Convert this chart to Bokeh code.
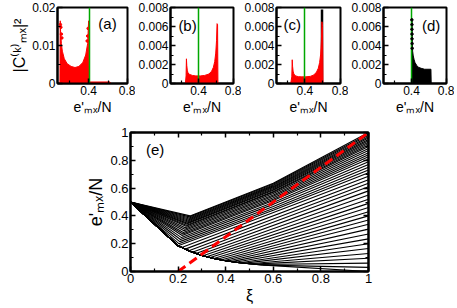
from bokeh.plotting import figure
from bokeh.layouts import column, row
from bokeh.models import Range1d, LinearAxis, Label, FixedTicker, CustomJSTickFormatter
from bokeh.embed import file_html
from bokeh.resources import INLINE

# ---------------- data ----------------
# top panels: e'_mx/N on x, |C|^2 on y
top_xlim = (0.08, 0.8)

# (a) red distribution (upper boundary of the dense red scatter)
a_x = [0.105, 0.108, 0.112, 0.12, 0.13, 0.15, 0.18, 0.22, 0.26, 0.30, 0.34, 0.37, 0.39, 0.40, 0.405, 0.41, 0.62, 0.625]
a_y = [0.0, 0.0165, 0.0135, 0.0105, 0.0085, 0.0065, 0.0052, 0.0045, 0.0042, 0.0045, 0.0055, 0.0075, 0.0105, 0.0165, 0.0005, 0.0004, 0.0004, 0.0]
a_dot_x = [0.11, 0.115, 0.12, 0.125, 0.385, 0.39, 0.395]
a_dot_y = [0.0155, 0.0148, 0.013, 0.012, 0.0112, 0.0125, 0.0145]
green_a = 0.412

# (b)
b_x = [0.25, 0.258, 0.262, 0.266, 0.272, 0.28, 0.30, 0.33, 0.37, 0.42, 0.47, 0.52, 0.55, 0.57, 0.585, 0.597, 0.606, 0.612, 0.618, 0.622]
b_y = [0.0, 0.0008, 0.0026, 0.0019, 0.0014, 0.0011, 0.00095, 0.00085, 0.0008, 0.0008, 0.00085, 0.001, 0.0013, 0.0017, 0.0023, 0.0032, 0.0045, 0.0063, 0.0062, 0.0]
green_b = 0.40

# (c)
c_x = [0.24, 0.252, 0.257, 0.261, 0.267, 0.275, 0.295, 0.325, 0.365, 0.41, 0.46, 0.50, 0.53, 0.55, 0.565, 0.577, 0.585, 0.591, 0.598, 0.603]
c_y = [0.0, 0.0007, 0.0025, 0.0018, 0.0013, 0.001, 0.0008, 0.00072, 0.0007, 0.0007, 0.00075, 0.0009, 0.0012, 0.0016, 0.0022, 0.0031, 0.0045, 0.0065, 0.006, 0.0]
c_black_x = [0.592]
c_black_top = [0.0078]
green_c = 0.393

# (d)
d_x = [0.402, 0.405, 0.409, 0.413, 0.42, 0.43, 0.44, 0.46, 0.48, 0.51, 0.55, 0.60, 0.622, 0.625]
d_y = [0.0, 0.0066, 0.0042, 0.0034, 0.0029, 0.0025, 0.0022, 0.0019, 0.0017, 0.0016, 0.0015, 0.0015, 0.0015, 0.0]
d_dot_x = [0.404, 0.405, 0.405, 0.406, 0.406, 0.407, 0.408]
d_dot_y = [0.0067, 0.0062, 0.0057, 0.0052, 0.0047, 0.0042, 0.0037]
green_d = 0.405

# (e) fan of levels e'_mx/N versus xi; all levels start at (0, 0.5)
fan_start_xi = 0.0
fan_start_e = 0.5
fan_end_xi = 1.0
fan_mid_xi = 0.6

# upper levels: straight descent to a turning point, bent rise through xi = 0.6
upper_end = [1.00, 0.99, 0.98, 0.97, 0.96, 0.95, 0.94, 0.93, 0.92, 0.91, 0.90, 0.885, 0.87, 0.855, 0.84,
             0.825, 0.81, 0.79, 0.77, 0.75, 0.73, 0.71]
upper_turn_xi = [0.250, 0.248, 0.247, 0.245, 0.243, 0.241, 0.240, 0.238, 0.236, 0.235, 0.233, 0.230, 0.228,
                 0.225, 0.222, 0.220, 0.217, 0.214, 0.210, 0.207, 0.203, 0.200]
upper_turn_e = [0.400, 0.393, 0.385, 0.378, 0.370, 0.363, 0.356, 0.348, 0.341, 0.333, 0.326, 0.315, 0.304,
                0.293, 0.281, 0.270, 0.259, 0.244, 0.230, 0.215, 0.200, 0.185]
upper_mid_e = [0.635, 0.629, 0.622, 0.616, 0.609, 0.604, 0.597, 0.590, 0.584, 0.576, 0.571, 0.561, 0.551,
               0.541, 0.531, 0.520, 0.510, 0.496, 0.483, 0.468, 0.454, 0.440]

# lower levels: follow the lower edge of the fan, then rise straight to their end value
lower_end = [0.685, 0.66, 0.635, 0.61, 0.58, 0.55, 0.52, 0.49, 0.46, 0.43, 0.40, 0.37, 0.34, 0.305, 0.27,
             0.235, 0.20, 0.165, 0.13, 0.095, 0.06, 0.03, 0.0]
lower_turn_xi = [0.215, 0.230, 0.245, 0.260, 0.275, 0.290, 0.305, 0.320, 0.335, 0.350, 0.365, 0.380, 0.395,
                 0.410, 0.425, 0.440, 0.460, 0.480, 0.500, 0.520, 0.540, 0.560, 0.580]
lower_turn_e = [0.173, 0.161, 0.149, 0.139, 0.130, 0.121, 0.113, 0.106, 0.100, 0.093, 0.088, 0.083, 0.079,
                0.075, 0.071, 0.067, 0.063, 0.060, 0.056, 0.053, 0.050, 0.046, 0.044]
lower_edge_xi = [0.20, 0.25, 0.30, 0.35, 0.40, 0.45, 0.50, 0.55]
lower_edge_e = [0.185, 0.145, 0.115, 0.093, 0.077, 0.065, 0.056, 0.048]

red_xi = [0.2, 1.0]
red_e = [0.0, 1.0]

# ticks
top_x_major = [0.4, 0.8]
top_x_minor = [0.2, 0.6]
a_y_major = [0, 0.01, 0.02]
a_y_minor = [0.005, 0.015]
bcd_y_major = [0, 0.002, 0.004, 0.006, 0.008]
bcd_y_minor = [0.001, 0.003, 0.005, 0.007]
e_major = [0, 0.2, 0.4, 0.6, 0.8, 1.0]
e_minor = [0.1, 0.3, 0.5, 0.7, 0.9]

# ---------------- styling helpers ----------------
FONT = "Liberation Sans"
RED = "#ff0000"
GREEN = "#00a800"


def fmt():
    return CustomJSTickFormatter(code="return String(Number(tick.toFixed(4)));")


def style_axis(ax, major, minor, size):
    ax.ticker = FixedTicker(ticks=major, minor_ticks=minor)
    ax.formatter = fmt()
    ax.axis_line_width = 2
    ax.axis_line_color = "black"
    ax.major_tick_in = 5
    ax.major_tick_out = 0
    ax.minor_tick_in = 3
    ax.minor_tick_out = 0
    ax.major_tick_line_width = 1.5
    ax.minor_tick_line_width = 1.2
    ax.major_label_text_font = FONT
    ax.major_label_text_font_size = size
    ax.major_label_text_color = "black"
    ax.major_label_standoff = 2
    ax.axis_label_text_font = FONT
    ax.axis_label_text_font_style = "normal"
    ax.axis_label_text_color = "black"
    ax.axis_label_standoff = 1


def base_fig(width, height, xr, yr, bl, br, bt, bb):
    p = figure(width=width, height=height, x_range=Range1d(*xr), y_range=Range1d(*yr),
               output_backend="svg", toolbar_location=None, title=None,
               min_border_left=bl, min_border_right=br, min_border_top=bt, min_border_bottom=bb)
    p.xgrid.visible = False
    p.ygrid.visible = False
    p.outline_line_color = "black"
    p.outline_line_width = 2
    p.background_fill_color = "white"
    p.border_fill_color = "white"
    return p


def top_panel(width, bl, ymax, ymaj, ymin, tag, tag_xy, ylabel=None):
    p = base_fig(width, 117, top_xlim, (0, ymax), bl, 8, 7, 33)
    style_axis(p.xaxis[0], top_x_major, top_x_minor, "12px")
    style_axis(p.yaxis[0], ymaj, ymin, "12px")
    p.xaxis.axis_label = "e'\u2098\u2093/N"
    p.xaxis.axis_label_text_font_size = "14px"
    if ylabel:
        p.yaxis.axis_label = ylabel
        p.yaxis.axis_label_text_font_size = "16px"
    p.add_layout(Label(x=tag_xy[0], y=tag_xy[1], text=tag, text_font=FONT,
                       text_font_size="15px", text_color="black"))
    return p


# ---------------- panels (a)-(d) ----------------
pa = top_panel(135, 57, 0.02, a_y_major, a_y_minor, "(a)", (0.50, 0.0135),
               ylabel="|C\u207d\u1d4f\u207e\u2098\u2093|\u00b2")
pa.patch(a_x, a_y, fill_color=RED, line_color=RED, line_width=1)
pa.scatter(a_dot_x, a_dot_y, size=2.5, color=RED)
pa.vspan(x=[green_a], line_color=GREEN, line_width=1.5)

pb = top_panel(106, 32, 0.008, bcd_y_major, bcd_y_minor, "(b)", (0.17, 0.0052))
pb.patch(b_x, b_y, fill_color=RED, line_color=RED, line_width=1)
pb.vspan(x=[green_b], line_color=GREEN, line_width=1.5)

pc = top_panel(107, 32, 0.008, bcd_y_major, bcd_y_minor, "(c)", (0.16, 0.0053))
pc.segment(x0=c_black_x, y0=[0], x1=c_black_x, y1=c_black_top, line_color="black", line_width=2.5)
pc.patch(c_x, c_y, fill_color=RED, line_color=RED, line_width=1)
pc.vspan(x=[green_c], line_color=GREEN, line_width=1.5)

pd = top_panel(106, 32, 0.008, bcd_y_major, bcd_y_minor, "(d)", (0.52, 0.0052))
pd.patch(d_x, d_y, fill_color="black", line_color="black", line_width=1)
pd.vspan(x=[green_d], line_color=GREEN, line_width=1.5)
pd.scatter(d_dot_x, d_dot_y, size=2.5, color="black")

# ---------------- panel (e) ----------------
pe = base_fig(378, 189, (0, 1), (0, 1), 130, 10, 15, 35)
style_axis(pe.xaxis[0], e_major, e_minor, "13px")
style_axis(pe.yaxis[0], e_major, e_minor, "13px")
pe.xaxis.axis_label = "\u03be"
pe.xaxis.axis_label_text_font_size = "16px"
pe.yaxis.axis_label = "e'\u2098\u2093/N"
pe.yaxis.axis_label_text_font_size = "18px"
for loc in ("above", "right"):
    ax = LinearAxis()
    style_axis(ax, e_major, e_minor, "1px")
    ax.formatter = CustomJSTickFormatter(code="return '';")
    ax.major_label_standoff = 0
    pe.add_layout(ax, loc)

fan_xs, fan_ys = [], []
for tx, te, me, ee in zip(upper_turn_xi, upper_turn_e, upper_mid_e, upper_end):
    fan_xs.append([fan_start_xi, tx, fan_mid_xi, fan_end_xi])
    fan_ys.append([fan_start_e, te, me, ee])
for tx, te, ee in zip(lower_turn_xi, lower_turn_e, lower_end):
    xs, ys = [fan_start_xi], [fan_start_e]
    for lx, le in zip(lower_edge_xi, lower_edge_e):
        if lx < tx:
            xs.append(lx)
            ys.append(le)
    xs += [tx, fan_end_xi]
    ys += [te, ee]
    fan_xs.append(xs)
    fan_ys.append(ys)

pe.multi_line(xs=fan_xs, ys=fan_ys, line_color="black", line_width=1.1)
pe.line(red_xi, red_e, line_color=RED, line_width=3, line_dash="9 5")
pe.add_layout(Label(x=0.065, y=0.815, text="(e)", text_font=FONT, text_font_size="15px", text_color="black"))

layout = column(row(pa, pb, pc, pd), pe)
open("out.html", "w").write(file_html(layout, INLINE))
